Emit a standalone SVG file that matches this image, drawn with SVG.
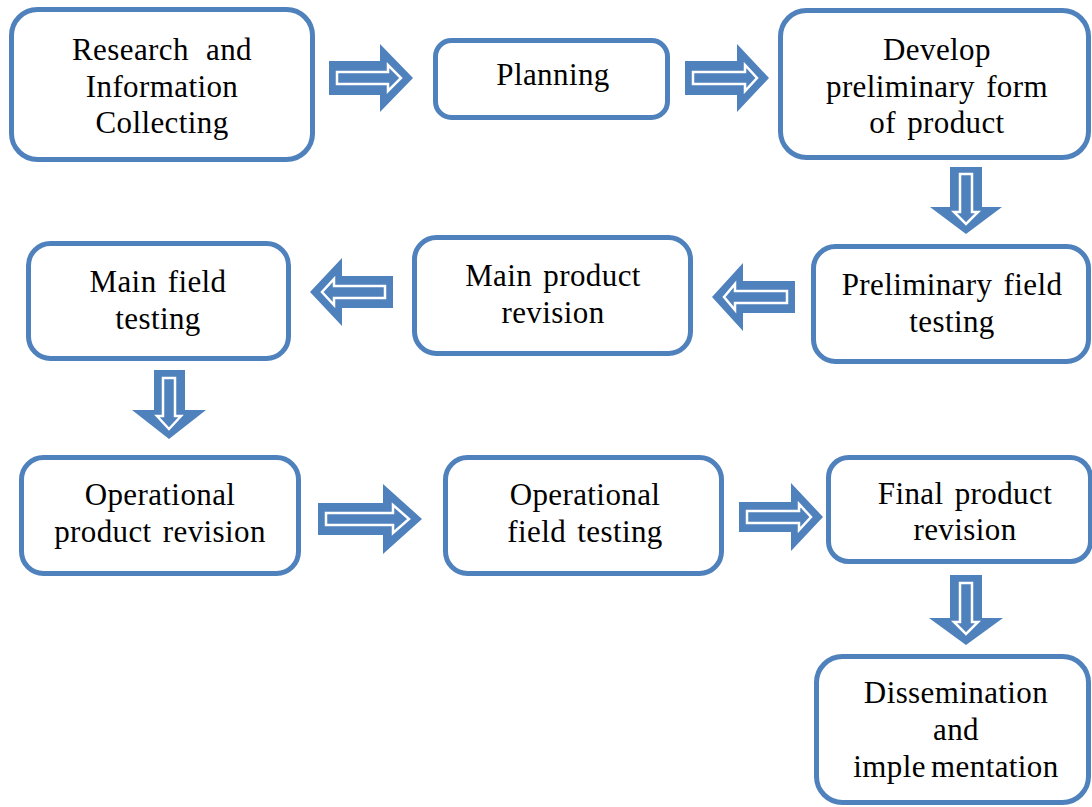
<svg xmlns="http://www.w3.org/2000/svg" width="1092" height="807" viewBox="0 0 1092 807">
<style>
.box{fill:#fff;stroke:#4F81BD;stroke-width:5}
.t{font-family:"Liberation Serif","Times New Roman",serif;font-size:31px;letter-spacing:0.4px;word-spacing:3px;fill:#000;text-anchor:middle}
.ao{fill:#4F81BD;stroke:none}
.ai{fill:#4F81BD;stroke:#fff;stroke-width:2.5;stroke-linejoin:miter}
</style>
<rect width="1092" height="807" fill="#fff"/>
<g id="connectors">
<g id="a1"><polygon class="ao" points="329,61 380,61 380,44 413,78 380,112 380,95 329,95"/><polygon class="ai" points="337,72 388,72 388,65 401,78 388,91 388,84 337,84"/></g>
<g id="a2"><polygon class="ao" points="685,61 737,61 737,44 769,78 737,112 737,95 685,95"/><polygon class="ai" points="693,72 745,72 745,65 757,78 745,91 745,84 693,84"/></g>
<g id="a3"><polygon class="ao" points="950,167 982,167 982,207 1002,207 966,234 930,207 950,207"/><polygon class="ai" points="960,174 972,174 972,212 978,212 966,224 954,212 960,212"/></g>
<g id="a4"><polygon class="ao" points="795,281 743,281 743,263 712,297 743,331 743,313 795,313"/><polygon class="ai" points="787,291 735,291 735,284 724,297 735,310 735,303 787,303"/></g>
<g id="a5"><polygon class="ao" points="393,276 342,276 342,258 310,292 342,326 342,308 393,308"/><polygon class="ai" points="385,286 334,286 334,279 322,292 334,305 334,298 385,298"/></g>
<g id="a6"><polygon class="ao" points="154,370 185,370 185,410 206,410 169,439 132,410 154,410"/><polygon class="ai" points="163,378 175,378 175,416 181,416 169,429 157,416 163,416"/></g>
<g id="a7"><polygon class="ao" points="318,503 383,503 383,484 422,519 383,554 383,535 318,535"/><polygon class="ai" points="326,513 393,513 393,505 409,519 393,533 393,525 326,525"/></g>
<g id="a8"><polygon class="ao" points="739,502 791,502 791,483 823,517 791,551 791,532 739,532"/><polygon class="ai" points="747,511 799,511 799,504 811,517 799,530 799,523 747,523"/></g>
<g id="a9"><polygon class="ao" points="950,575 982,575 982,618 1003,618 966,645 929,618 950,618"/><polygon class="ai" points="960,583 972,583 972,622 978,622 966,634 954,622 960,622"/></g>
</g>
<g id="n1"><rect class="box" x="11.5" y="9.5" width="301" height="150" rx="26"/><text class="t" x="162" y="60" style="word-spacing:9px">Research and</text><text class="t" x="162" y="97">Information</text><text class="t" x="162" y="133">Collecting</text></g>
<g id="n2"><rect class="box" x="435.5" y="40.5" width="232" height="77" rx="16"/><text class="t" x="553" y="85">Planning</text></g>
<g id="n3"><rect class="box" x="780.5" y="10.5" width="308" height="147" rx="26"/><text class="t" x="937" y="60">Develop</text><text class="t" x="937" y="97">preliminary form</text><text class="t" x="937" y="133">of product</text></g>
<g id="n4"><rect class="box" x="813.5" y="246.5" width="275" height="115" rx="22"/><text class="t" x="952" y="295">Preliminary field</text><text class="t" x="952" y="332">testing</text></g>
<g id="n5"><rect class="box" x="414.5" y="237.5" width="276" height="116" rx="22"/><text class="t" x="553" y="286">Main product</text><text class="t" x="553" y="323">revision</text></g>
<g id="n6"><rect class="box" x="28.5" y="243.5" width="260" height="115" rx="22"/><text class="t" x="158" y="292">Main field</text><text class="t" x="158" y="329">testing</text></g>
<g id="n7"><rect class="box" x="21.5" y="457.5" width="277" height="116" rx="22"/><text class="t" x="160" y="505">Operational</text><text class="t" x="160" y="542">product revision</text></g>
<g id="n8"><rect class="box" x="445.5" y="457.5" width="276" height="116" rx="22"/><text class="t" x="585" y="505">Operational</text><text class="t" x="585" y="542">field testing</text></g>
<g id="n9"><rect class="box" x="828.5" y="457.5" width="262" height="104" rx="20"/><text class="t" x="965" y="504">Final product</text><text class="t" x="965" y="540">revision</text></g>
<g id="n10"><rect class="box" x="816.5" y="656.5" width="272" height="146" rx="26"/><text class="t" x="956" y="703">Dissemination</text><text class="t" x="956" y="740">and</text><text class="t" x="956" y="777" style="word-spacing:-3px">imple mentation</text></g>
</svg>
